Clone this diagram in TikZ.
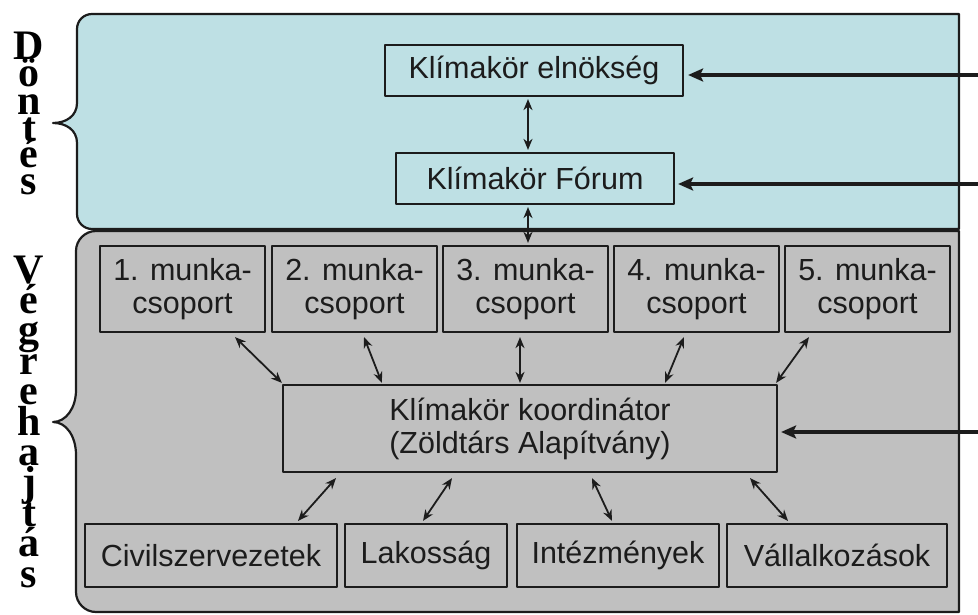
\documentclass[tikz,border=0pt]{standalone}
\usepackage{fontspec}
\setmainfont{Liberation Sans}
\newfontfamily\bracefont{Liberation Serif}
\usetikzlibrary{arrows.meta,calc}
\definecolor{topblue}{RGB}{190,224,228}
\definecolor{grayfill}{RGB}{192,192,192}
\definecolor{ink}{RGB}{28,28,28}
\newcommand{\stackletters}[2]{\vbox{\baselineskip=#1\lineskiplimit=-100pt\lineskip=0pt
  \halign{\hfil##\hfil\cr#2}}}
\tikzset{
  panelline/.style={draw=ink, line width=2.2pt},
  wbox/.style={draw=ink, line width=2.2pt, inner sep=0pt, align=center,
    font=\fontsize{30.5}{33}\selectfont, text=ink},
  dbl/.style={draw=ink, line width=1.8pt,
    {Stealth[length=11pt,width=9pt]}-{Stealth[length=11pt,width=9pt]}},
  feed/.style={draw=ink, line width=3.2pt, -{Stealth[length=15pt,width=13pt,inset=3pt]}},
  sidelabel/.style={anchor=base, inner sep=0pt,
    font=\bracefont\bfseries\fontsize{42}{42}\selectfont, text=black}
}
\begin{document}
\begin{tikzpicture}[x=1pt, y=-1pt, line join=round]
\useasboundingbox (0,0) rectangle (978,615);

% Panels
\draw[panelline, fill=topblue] (92,14) -- (959,14) -- (959,229) -- (92,229)
  .. controls (83.7,229) and (77,222.3) .. (77,214) -- (77,143)
  .. controls (77,130) and (66,123) .. (53,123)
  .. controls (66,123) and (77,116) .. (77,103) -- (77,29)
  .. controls (77,20.7) and (83.7,14) .. (92,14) -- cycle;
\draw[panelline, fill=grayfill] (96,231) -- (959,231) -- (959,612) -- (96,612)
  .. controls (85,612) and (76,603) .. (76,592) -- (76,455)
  .. controls (76,436) and (66,422) .. (53,422)
  .. controls (66,422) and (76,408) .. (76,390) -- (76,251)
  .. controls (76,240) and (85,231) .. (96,231) -- cycle;

% Vertical side labels
\node[sidelabel] (dontes) at (29,195) {\stackletters{27pt}{D\cr ö\cr n\cr t\cr é\cr s\cr}};
\node[sidelabel] (vegreh) at (29,587) {\stackletters{30.4pt}{V\cr é\cr g\cr r\cr e\cr h\cr a\cr j\cr t\cr á\cr s\cr}};

% Decision boxes
\node[wbox, fill=topblue, minimum width=298pt, minimum height=51pt] (el) at (534,70.5) {Klímakör elnökség};
\node[wbox, fill=topblue, minimum width=278pt, minimum height=51pt] (fo) at (535,178.5) {Klímakör Fórum};

% Working groups
\foreach \n/\x in {1/182.5, 2/354.5, 3/525.5, 4/696.5, 5/867.5}
  \node[wbox, fill=grayfill, minimum width=165pt, minimum height=86pt] (m\n) at (\x,289) {\n. munka-\\csoport};

% Coordinator
\node[wbox, fill=grayfill, minimum width=494pt, minimum height=87pt] (ko) at (530,428.5) {Klímakör koordinátor\\(Zöldtárs Alapítvány)};

% Bottom boxes
\node[wbox, fill=grayfill, minimum width=252pt, minimum height=63pt] (c1) at (211,555.5) {Civilszervezetek};
\node[wbox, fill=grayfill, minimum width=162pt, minimum height=63pt] (c2) at (426,555.5) {Lakosság};
\node[wbox, fill=grayfill, minimum width=202pt, minimum height=63pt] (c3) at (618,555.5) {Intézmények};
\node[wbox, fill=grayfill, minimum width=220pt, minimum height=63pt] (c4) at (837,555.5) {Vállalkozások};

% Double arrows
\draw[dbl] ($(el.south)+(-6,2)$) -- ($(fo.north)+(-7,-2)$);
\draw[dbl] ($(fo.south)+(-7,2)$) -- ($(m3.north)+(2.5,-2)$);
\draw[dbl] ($(m1.south)+(52.5,4)$) -- ($(ko.north west)+(0,-1)$);
\draw[dbl] ($(m2.south)+(9.5,4)$) -- ($(ko.north west)+(100,-1)$);
\draw[dbl] ($(m3.south)+(-5.5,4)$) -- ($(ko.north)+(-10,-1)$);
\draw[dbl] ($(m4.south)+(-12.5,4)$) -- ($(ko.north)+(135,-1)$);
\draw[dbl] ($(m5.south)+(-58.5,4)$) -- ($(ko.north east)+(-2,-1)$);
\draw[dbl] ($(ko.south)+(-194,5)$) -- ($(c1.north)+(87,-2)$);
\draw[dbl] ($(ko.south)+(-78,5)$) -- ($(c2.north)+(-3,-2)$);
\draw[dbl] ($(ko.south)+(62,5)$) -- ($(c3.north)+(-6,-2)$);
\draw[dbl] ($(ko.south)+(220,5)$) -- ($(c4.north)+(-49,-2)$);

% Feed arrows from the right edge
\coordinate (r1) at (978,75);
\coordinate (r2) at (978,184);
\coordinate (r3) at (978,432);
\draw[feed] (r1) -- ($(el.east |- r1)+(4,0)$);
\draw[feed] (r2) -- ($(fo.east |- r2)+(3,0)$);
\draw[feed] (r3) -- ($(ko.east |- r3)+(3,0)$);
\end{tikzpicture}
\end{document}
